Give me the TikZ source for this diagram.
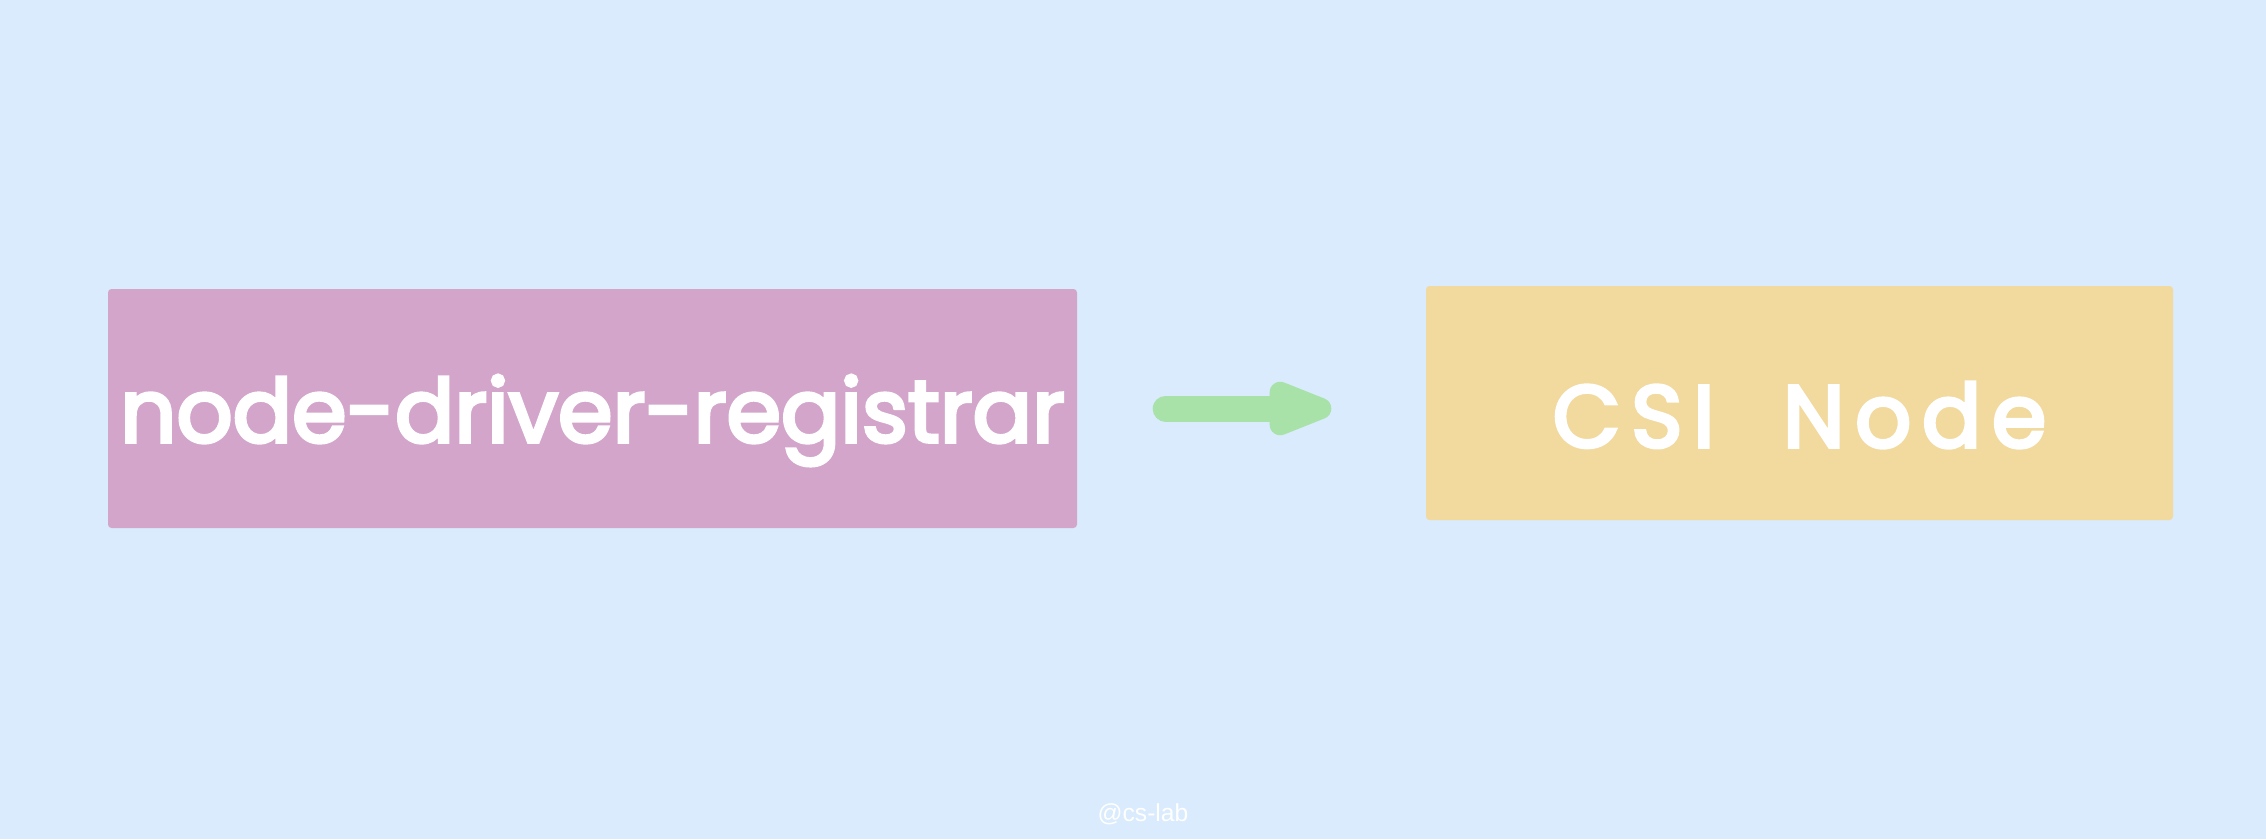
\documentclass[tikz,border=0pt]{standalone}
\usepackage{fontspec}
\setmainfont{Poppins}
\newfontfamily\handfont[FakeBold=4]{Poppins}
\newfontfamily\markfont{Liberation Sans}
\usetikzlibrary{arrows.meta}

\definecolor{sky}{HTML}{D9EBFC}
\definecolor{plum}{HTML}{D3A5CB}
\definecolor{sand}{HTML}{F2D99E}
\definecolor{leaf}{HTML}{A8E2A8}

\newcommand\sinktext[1]{\raisebox{-0.12cm}[\height][\depth]{#1}}

\begin{document}
\begin{tikzpicture}
[box/.style={fill=#1,rounded corners=1pt,inner sep=0pt,text=white,
   font=\handfont\fontsize{25}{29}\selectfont},
 flow/.style={draw=leaf,line width=0.26cm,line cap=round,
   -{Triangle[length=0.85cm,width=0.56cm,round]}}]

\fill[sky] (0,0) rectangle (22.66,8.39);
\useasboundingbox (0,0) rectangle (22.66,8.39);

\node (reg) at (5.925,4.305) [box=plum,minimum width=9.69cm,minimum height=2.39cm] {\sinktext{node-driver-registrar}};
\node (csi) at (17.995,4.36) [box=sand,minimum width=7.47cm,minimum height=2.34cm] {\sinktext{\addfontfeatures{LetterSpace=12}CSI\ \ Node}};

\draw[flow,shorten <=0.88cm,shorten >=0.94cm] (reg.east) -- (reg.east -| csi.west);

\node (mark) at (11.43,0.25) [text=white,font=\markfont\fontsize{7}{8}\selectfont] {@cs-lab};
\end{tikzpicture}
\end{document}
